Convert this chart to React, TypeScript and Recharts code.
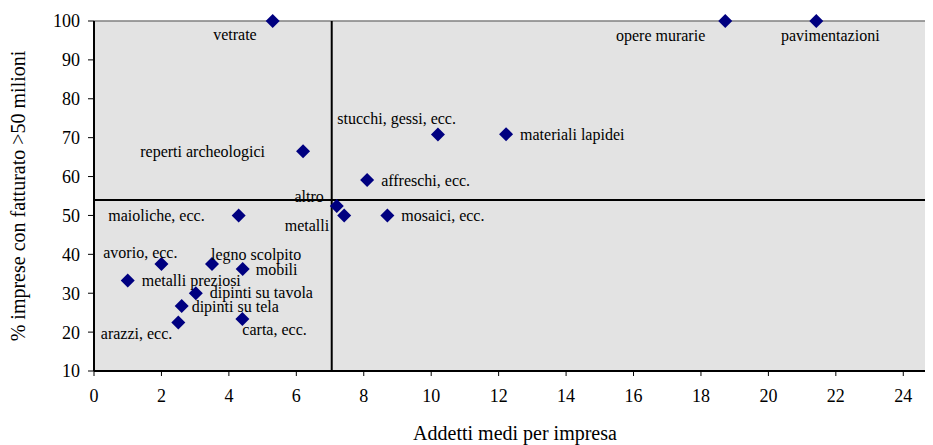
import { ScatterChart, Scatter, XAxis, YAxis, ReferenceLine, CartesianGrid, Label } from 'recharts'

const settori = [
  'vetrate', 'opere murarie', 'pavimentazioni', 'stucchi, gessi, ecc.', 'materiali lapidei',
  'reperti archeologici', 'affreschi, ecc.', 'altro', 'metalli', 'mosaici, ecc.',
  'maioliche, ecc.', 'avorio, ecc.', 'legno scolpito', 'mobili', 'metalli preziosi',
  'dipinti su tavola', 'dipinti su tela', 'arazzi, ecc.', 'carta, ecc.',
]
const addettiMedi = [5.3, 18.72, 21.42, 10.2, 12.22, 6.2, 8.1, 7.2, 7.42, 8.7, 4.29, 2.0, 3.5, 4.41, 1.0, 3.02, 2.6, 2.5, 4.4]
const quotaOltre50 = [100, 100, 100, 70.8, 70.9, 66.5, 59.1, 52.4, 50, 50, 50, 37.5, 37.5, 36.2, 33.3, 30, 26.7, 22.5, 23.4]

const xTicks = [0, 2, 4, 6, 8, 10, 12, 14, 16, 18, 20, 22, 24]
const yTicks = [10, 20, 30, 40, 50, 60, 70, 80, 90, 100]
const mediaAddetti = 7.05
const mediaQuota = 54

// where each label sits relative to its marker: [anchor, dx, dy]
const labelPos: Record<string, ['start' | 'middle' | 'end', number, number]> = {
  'vetrate': ['end', -16, 13],
  'opere murarie': ['end', -20, 14],
  'pavimentazioni': ['middle', 14, 14],
  'stucchi, gessi, ecc.': ['end', 18, -16],
  'materiali lapidei': ['start', 14, 0],
  'reperti archeologici': ['end', -38, 0],
  'affreschi, ecc.': ['start', 14, 0],
  'altro': ['end', -13, -10],
  'metalli': ['end', -15, 10],
  'mosaici, ecc.': ['start', 14, 0],
  'maioliche, ecc.': ['end', -34, 0],
  'avorio, ecc.': ['end', 16, -12],
  'legno scolpito': ['start', -1, -10],
  'mobili': ['start', 13, 0],
  'metalli preziosi': ['start', 14, 0],
  'dipinti su tavola': ['start', 14, -1],
  'dipinti su tela': ['start', 10, 0],
  'arazzi, ecc.': ['end', -6, 11],
  'carta, ecc.': ['start', 0, 11],
}

const data = settori.map((nome, i) => ({ nome, x: addettiMedi[i], y: quotaOltre50[i] }))

const FONT = 'Liberation Serif'

function Diamond(props: any) {
  const { cx, cy, payload } = props
  const s = 7
  const [anchor, dx, dy] = labelPos[payload.nome] || ['start', 12, 0]
  return (
    <g>
      <polygon points={`${cx},${cy - s} ${cx + s},${cy} ${cx},${cy + s} ${cx - s},${cy}`} fill="#000080" />
      <text
        x={cx + dx}
        y={cy + dy}
        textAnchor={anchor}
        dominantBaseline="central"
        style={{ fontFamily: FONT, fontSize: 16 }}
        fill="#000"
      >
        {payload.nome}
      </text>
    </g>
  )
}

export default function App() {
  return (
    <div style={{ width: 925, height: 437, overflow: 'hidden', fontFamily: FONT }}>
      <ScatterChart width={929} height={437} margin={{ top: 13, right: 0, bottom: 0, left: 0 }} style={{ fontFamily: FONT }}>
        <CartesianGrid fill="#e3e3e3" horizontal={false} vertical={false} />
        <XAxis
          type="number"
          dataKey="x"
          domain={[0, 25]}
          ticks={xTicks}
          allowDataOverflow
          height={74}
          tickSize={5}
          tickMargin={13}
          axisLine={{ stroke: '#000', strokeWidth: 2 }}
          tickLine={{ stroke: '#000' }}
          tick={{ fontSize: 18, fill: '#000', style: { fontFamily: FONT } }}
        >
          <Label
            content={({ viewBox }: any) => (
              <text
                x={viewBox.x + 421}
                y={viewBox.y + 62}
                textAnchor="middle"
                dominantBaseline="central"
                style={{ fontFamily: FONT, fontSize: 20 }}
                fill="#000"
              >
                Addetti medi per impresa
              </text>
            )}
          />
        </XAxis>
        <YAxis
          type="number"
          dataKey="y"
          domain={[10, 100]}
          ticks={yTicks}
          width={86}
          tickSize={6}
          tickMargin={8}
          axisLine={{ stroke: '#000', strokeWidth: 2 }}
          tickLine={{ stroke: '#000' }}
          tick={{ fontSize: 18, fill: '#000', style: { fontFamily: FONT } }}
        >
          <Label
            content={({ viewBox }: any) => {
              const cx = viewBox.x + 10
              const cy = viewBox.y + viewBox.height / 2
              return (
                <text
                  x={cx}
                  y={cy}
                  transform={`rotate(-90 ${cx} ${cy})`}
                  textAnchor="middle"
                  dominantBaseline="central"
                  style={{ fontFamily: FONT, fontSize: 20 }}
                  fill="#000"
                >
                  % imprese con fatturato &gt;50 milioni
                </text>
              )
            }}
          />
        </YAxis>
        <ReferenceLine y={100} stroke="#808080" strokeWidth={1.5} />
        <ReferenceLine x={mediaAddetti} stroke="#000" strokeWidth={2} />
        <ReferenceLine y={mediaQuota} stroke="#000" strokeWidth={2} />
        <Scatter data={data} shape={Diamond} isAnimationActive={false} />
      </ScatterChart>
    </div>
  )
}
